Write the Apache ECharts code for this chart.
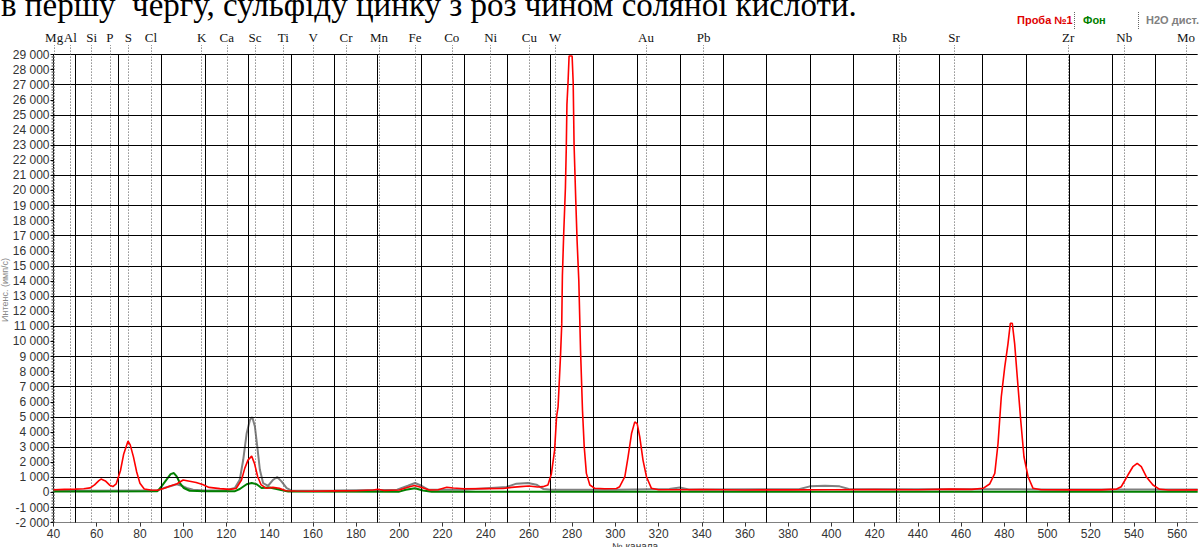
<!DOCTYPE html>
<html><head><meta charset="utf-8">
<script src="https://cdn.jsdelivr.net/npm/echarts@6/dist/echarts.min.js"></script>
<style>html,body{margin:0;padding:0;background:#fff}#c{width:1200px;height:547px}</style>
</head><body><div id="c"></div>
<script>
// ---- data ----
const xTickLabels = [40,60,80,100,120,140,160,180,200,220,240,260,280,300,320,340,360,380,400,420,440,460,480,500,520,540,560];
const gridX = [50,70,90,110,130,150,170,190,210,230,250,270,290,310,330,350,370,390,410,430,450,470,490,510,530,550];
const gridY = [-1000,1000,3000,5000,7000,9000,11000,13000,15000,17000,19000,21000,23000,25000,27000,29000];
const elementNames = ['Mg','Al','Si','P','S','Cl','K','Ca','Sc','Ti','V','Cr','Mn','Fe','Co','Ni','Cu','W','Au','Pb','Rb','Sr','Zr','Nb','Mo'];
const elementChannels = [40.3,47.8,57.7,66.1,74.6,85.1,108.6,120.2,133.3,146.3,160.2,175.4,190.6,207.3,224.3,242.3,260.2,272.2,314.2,340.9,431.5,456.7,509.6,535.5,564.1];
const seriesNames = ['Проба №1','Фон','H2O дист.'];

const redPoints = [[40,180],[45,200],[50,220],[54,240],[57,300],[59,500],[61,780],[62,880],[64,760],[66,480],[67.5,390],[69,560],[71,1450],[72.5,2550],[74.5,3400],[75.5,3150],[77,2350],[78.5,1350],[80,600],[82,220],[85,160],[88,140],[91,260],[94,420],[97,560],[100,820],[103,740],[106,660],[109,520],[112,330],[117,250],[121.5,200],[124.5,260],[127,820],[128.5,1590],[130,2140],[131.7,2400],[133,1920],[134.5,1040],[136,520],[138.5,270],[141.5,330],[144.5,270],[147.5,110],[152,90],[160,80],[170,100],[180,110],[188,160],[190,210],[193,130],[200,160],[204,340],[207,460],[210,340],[214,160],[218,180],[222,340],[225,290],[230,240],[240,250],[248,260],[252,330],[256,380],[260,420],[264,360],[266.5,380],[268.8,490],[270.4,1220],[271.9,2800],[272.8,5000],[273.5,5660],[274.6,8960],[275.2,11160],[275.5,14350],[276.1,17100],[276.9,20180],[277.3,22820],[277.6,25680],[278.1,27110],[278.6,28900],[280,28900],[280.5,27110],[280.9,23060],[281.7,19300],[282.3,16660],[283.1,14020],[283.9,9400],[284.8,5440],[285.6,3020],[286.6,1260],[288.2,490],[290.5,270],[295,240],[300.5,260],[302,375],[304.4,1040],[305.9,2360],[307.5,3900],[309,4670],[310.1,4560],[311.3,3680],[312.8,2140],[314.4,1040],[316.7,270],[320,180],[330,180],[340,190],[360,160],[380,170],[400,180],[420,190],[440,180],[455,220],[465,200],[470.2,270],[473.2,554],[475.6,1260],[477.1,3240],[478.6,6320],[480.2,8300],[481.7,9840],[482.8,11200],[483.7,11200],[484.8,9840],[486,7640],[487.6,4780],[489.1,2360],[491,1040],[493.3,270],[497,180],[510,170],[525,170],[532,220],[534.1,375],[537.2,1150],[539.5,1700],[541.5,1920],[543.4,1700],[545.7,1040],[548.8,490],[551.9,205],[556,160],[569.5,170]];

const greenPoints = [[40,60],[60,60],[88,70],[90,400],[92.3,840],[94.2,1210],[95.7,1280],[97,1060],[98.5,620],[100.3,290],[103,110],[110,70],[124,80],[126.2,225],[129.4,540],[131.7,620],[134,540],[136.3,290],[140,330],[144.8,180],[148.6,65],[200,50],[203,180],[207.3,280],[211,130],[215,50],[569.5,45]];

const greyPoints = [[40,110],[88,120],[90.8,280],[94.7,440],[97,540],[99.3,440],[101.6,290],[104.6,180],[110,130],[120,150],[123.9,290],[126.2,840],[127.8,2160],[129.4,3920],[130.9,4800],[132,4980],[133.2,4360],[134.3,3040],[135.5,1500],[137,620],[139.3,440],[141.7,840],[143.5,1020],[145.5,730],[147.9,290],[150.2,110],[170,130],[199,180],[204,440],[207.3,620],[210.3,440],[213.4,180],[230,180],[249.6,355],[254.2,580],[259.6,620],[263.5,510],[266.6,230],[270,180],[300,180],[325,230],[329.8,330],[334,200],[385,210],[390,400],[397,440],[403.8,400],[408,230],[450,210],[500,200],[569.5,200]];

// ---- chart ----
const chart = echarts.init(document.getElementById('c'), null, {renderer: 'svg'});
const numFont = "'Liberation Sans Narrow','Liberation Sans',Arial,sans-serif";
const fmt = v => (v < 0 ? '-' : '') + String(Math.abs(v)).replace(/\B(?=(\d{3})+(?!\d))/g, ' ');
const L = 53.5, R = 2.3, B = 24.4;

chart.setOption({
  animation: false,
  backgroundColor: '#fff',
  grid: [
    {left: L, right: R, top: 54.5, bottom: B},
    {left: L, right: R, top: 45, bottom: B}
  ],
  xAxis: [
    {type: 'value', gridIndex: 0, min: 40, max: 569.5,
     axisLine: {show: true, onZero: false, lineStyle: {color: '#808080', width: 1}},
     axisTick: {show: true, customValues: xTickLabels, length: 4, lineStyle: {color: '#333'}},
     axisLabel: {customValues: xTickLabels, color: '#333', fontFamily: numFont, fontSize: 12, margin: 5},
     splitLine: {show: false}},
    {type: 'value', gridIndex: 1, min: 40, max: 569.5, show: false}
  ],
  yAxis: [
    {type: 'value', gridIndex: 0, min: -2000, max: 29000, interval: 1000,
     axisLine: {show: true, onZero: false, lineStyle: {color: '#000', width: 1}},
     axisTick: {show: true, length: 3, lineStyle: {color: '#000'}},
     minorTick: {show: true, splitNumber: 10, length: 2, lineStyle: {color: '#999'}},
     axisLabel: {formatter: fmt, color: '#333', fontFamily: numFont, fontSize: 12, margin: 4},
     splitLine: {show: false}},
    {type: 'value', gridIndex: 1, min: 0, max: 1, show: false}
  ],
  series: [
    {type: 'line', xAxisIndex: 0, yAxisIndex: 0, data: [], silent: true, z: 1,
     markLine: {symbol: 'none', silent: true, animation: false, label: {show: false},
       lineStyle: {type: 'solid', color: '#000', width: 1},
       data: gridX.map(v => ({xAxis: v})).concat(gridY.map(v => ({yAxis: v})))}},
    {type: 'line', xAxisIndex: 1, yAxisIndex: 1, data: [], silent: true, z: 1,
     markLine: {symbol: 'none', silent: true, animation: false,
       lineStyle: {type: [1, 2], color: '#555', width: 1},
       label: {show: true, position: 'end', formatter: '{b}', color: '#111',
               fontFamily: "'Liberation Serif','Times New Roman',serif", fontSize: 13, distance: 1},
       data: elementNames.map((n, i) => ({name: n, xAxis: elementChannels[i]}))}},
    {name: seriesNames[2], type: 'line', data: greyPoints, showSymbol: false, z: 3,
     lineStyle: {color: '#808080', width: 2}},
    {name: seriesNames[1], type: 'line', data: greenPoints, showSymbol: false, z: 4,
     lineStyle: {color: '#008000', width: 2}},
    {name: seriesNames[0], type: 'line', data: redPoints, showSymbol: false, z: 5,
     lineStyle: {color: '#ff0000', width: 1.6}}
  ],
  graphic: [
    {type: 'text', left: 1, top: -12, style: {text: 'в першу  чергу, сульфіду цинку з роз чином соляної кислоти.',
      font: "33px 'Liberation Serif','Times New Roman',serif", fill: '#000'}},
    {type: 'text', left: 1017, top: 14, style: {text: seriesNames[0], font: "bold 11px 'Liberation Sans',Arial,sans-serif", fill: '#e00000'}},
    {type: 'text', left: 1083, top: 14, style: {text: seriesNames[1], font: "bold 11px 'Liberation Sans',Arial,sans-serif", fill: '#008000'}},
    {type: 'text', left: 1146, top: 14, style: {text: seriesNames[2], font: "bold 11px 'Liberation Sans',Arial,sans-serif", fill: '#808080'}},
    {type: 'line', shape: {x1: 1074.5, y1: 12, x2: 1074.5, y2: 29}, style: {stroke: '#666', lineWidth: 1, lineDash: [1, 1]}},
    {type: 'line', shape: {x1: 1138.5, y1: 12, x2: 1138.5, y2: 29}, style: {stroke: '#666', lineWidth: 1, lineDash: [1, 1]}},
    {type: 'text', left: 612, top: 541, style: {text: '№ канала', font: "10px 'Liberation Sans',Arial,sans-serif", fill: '#333'}},
    {type: 'text', x: 5, y: 290, rotation: Math.PI / 2, style: {text: 'Интенс. (имп/с)', font: "9px 'Liberation Sans',Arial,sans-serif", fill: '#888', align: 'center', verticalAlign: 'middle'}}
  ]
});
</script>
</body></html>
